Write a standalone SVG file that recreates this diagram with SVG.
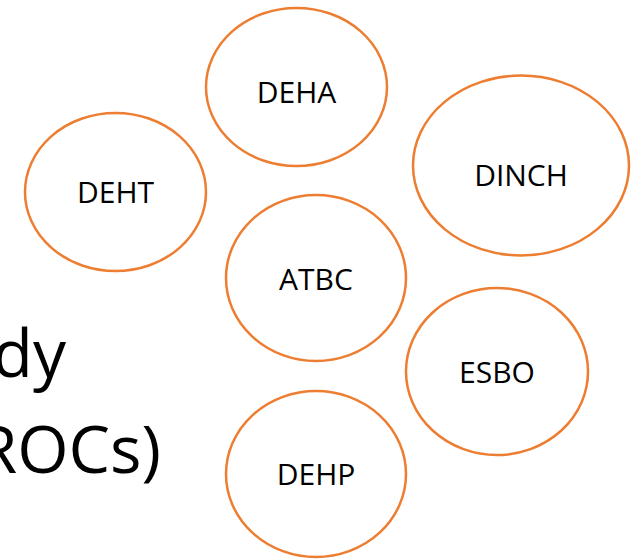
<svg xmlns="http://www.w3.org/2000/svg" width="641" height="560" viewBox="0 0 641 560">
<style>
.n ellipse{fill:#fff;stroke:#ED7D31;stroke-width:2.5}
.n text{font-family:"Open Sans","Liberation Sans",sans-serif;font-size:30px;fill:#000;text-anchor:middle}
.big{font-family:"Open Sans","Liberation Sans",sans-serif;font-size:66px;fill:#000;text-anchor:end}
</style>
<rect width="641" height="560" fill="#fff"/>
<text class="big" x="66" y="377">dy</text>
<text class="big" x="161" y="473">ROCs)</text>
<g id="connectors"></g>
<g id="deha" class="n"><ellipse cx="296.5" cy="87" rx="90.5" ry="79"/><text x="296.5" y="103">DEHA</text></g>
<g id="deht" class="n"><ellipse cx="115.5" cy="192" rx="90.5" ry="79"/><text x="115.5" y="203">DEHT</text></g>
<g id="dinch" class="n"><ellipse cx="521" cy="165.5" rx="108" ry="90"/><text x="521" y="186">DINCH</text></g>
<g id="atbc" class="n"><ellipse cx="316" cy="278" rx="90" ry="83"/><text x="316" y="290">ATBC</text></g>
<g id="esbo" class="n"><ellipse cx="497" cy="371.5" rx="91" ry="83.5"/><text x="497" y="383">ESBO</text></g>
<g id="dehp" class="n"><ellipse cx="316" cy="474" rx="90" ry="83"/><text x="316" y="485">DEHP</text></g>
</svg>
